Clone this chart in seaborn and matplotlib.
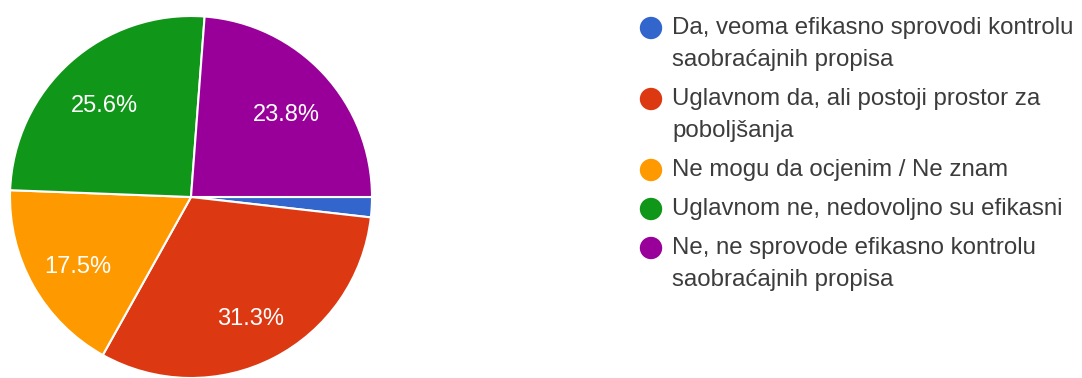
import matplotlib
matplotlib.use("Agg")
import matplotlib.pyplot as plt
import seaborn as sns

sns.set_theme(style="white")
plt.rcParams["font.family"] = ["Liberation Sans", "DejaVu Sans"]

# Survey answers (in drawing order, clockwise from 3 o'clock)
answers = [
    "Da, veoma efikasno sprovodi kontrolu\nsaobraćajnih propisa",
    "Uglavnom da, ali postoji prostor za\npoboljšanja",
    "Ne mogu da ocjenim / Ne znam",
    "Uglavnom ne, nedovoljno su efikasni",
    "Ne, ne sprovode efikasno kontrolu\nsaobraćajnih propisa",
]
shares = [1.8, 31.3, 17.5, 25.6, 23.8]
colors = ["#3366cc", "#dc3912", "#ff9900", "#109618", "#990099"]

W, H = 1082, 378
fig = plt.figure(figsize=(W / 100, H / 100), dpi=100)
fig.patch.set_facecolor("white")

# Pie axes: centre (191, 197) px, radius 181 px
cx, cy, r = 191, 197, 181
ax = fig.add_axes([(cx - r) / W, (H - cy - r) / H, 2 * r / W, 2 * r / H])
wedges, _, pcts = ax.pie(
    shares,
    colors=colors,
    startangle=0,
    counterclock=False,
    radius=1,
    autopct=lambda p: f"{p:.1f}%" if p > 5 else "",
    pctdistance=0.72,
    wedgeprops=dict(edgecolor="white", linewidth=1.5),
    textprops=dict(color="white", fontsize=17),
)
# percentage labels sit slightly below the slice midpoint
for t in pcts:
    x0, y0 = t.get_position()
    t.set_position((x0, y0 - 0.035))
ax.set_xlim(-1, 1)
ax.set_ylim(-1, 1)
ax.set_aspect("equal")
ax.axis("off")

# Legend drawn in pixel coordinates
lax = fig.add_axes([0, 0, 1, 1], zorder=-1)
lax.set_xlim(0, W)
lax.set_ylim(H, 0)
lax.axis("off")
y = 28
for label, col in zip(answers, colors):
    lax.scatter([651], [y], s=260, color=col, edgecolors="none")
    for i, line in enumerate(label.split("\n")):
        lax.text(672, y + i * 32, line, fontsize=17.3, color="#3c3c3c",
                 va="center", ha="left")
    y += 32 * (label.count("\n")) + 39

fig.savefig("out.png", dpi=100, facecolor="white")
